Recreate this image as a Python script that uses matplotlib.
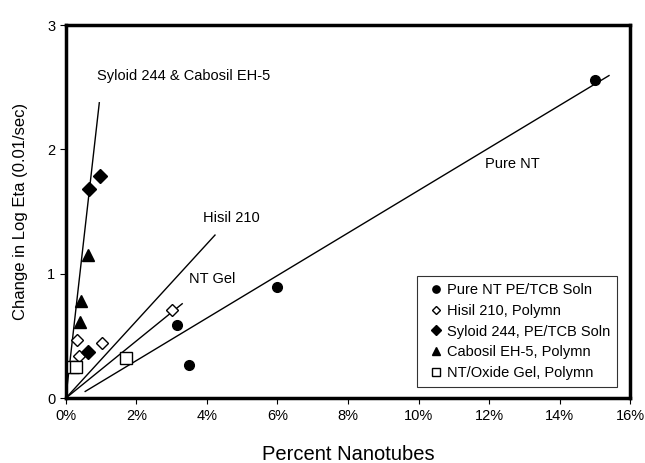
import matplotlib
matplotlib.use("Agg")
import matplotlib.pyplot as plt
from matplotlib.ticker import FuncFormatter

plt.rcParams['font.family'] = ['Liberation Sans', 'DejaVu Sans']

# data, x in percent nanotubes
pure_x = [15.0, 6.0, 3.15, 3.48]
pure_y = [2.56, 0.89, 0.59, 0.27]
hisil_x = [0.33, 0.38, 1.03, 3.0]
hisil_y = [0.47, 0.34, 0.44, 0.71]
syloid_x = [0.97, 0.65, 0.64]
syloid_y = [1.79, 1.68, 0.37]
cabosil_x = [0.62, 0.42, 0.40]
cabosil_y = [1.15, 0.78, 0.61]
gel_x = [1.70, 0.20, 0.30]
gel_y = [0.32, 0.25, 0.25]

# fitted trend lines: (x start, x end, slope, intercept)
fit_pure = (0.55, 15.4, 0.171, -0.04)
fit_hisil = (0.0, 4.23, 0.31, 0.0)
fit_gel = (0.0, 3.3, 0.23, 0.0)
fit_syloid = (0.0, 0.95, 2.5, 0.0)

fig = plt.figure(figsize=(6.45, 4.63), dpi=100)
ax = fig.add_axes([0.102, 0.140, 0.875, 0.806])

for x0, x1, m, b in [fit_pure, fit_hisil, fit_gel, fit_syloid]:
    ax.plot([x0, x1], [m*x0 + b, m*x1 + b], color='black', lw=1.0, zorder=2)

ax.plot(pure_x, pure_y, 'o', color='black', ms=7, ls='none',
        label='Pure NT PE/TCB Soln', zorder=3)
ax.plot(hisil_x, hisil_y, 'D', mfc='white', mec='black', mew=1.0, ms=6, ls='none',
        label='Hisil 210, Polymn', zorder=3)
ax.plot(syloid_x, syloid_y, 'D', color='black', ms=7, ls='none',
        label='Syloid 244, PE/TCB Soln', zorder=3)
ax.plot(cabosil_x, cabosil_y, '^', color='black', ms=8, ls='none',
        label='Cabosil EH-5, Polymn', zorder=3)
ax.plot(gel_x, gel_y, 's', mfc='white', mec='black', mew=1.0, ms=8, ls='none',
        label='NT/Oxide Gel, Polymn', zorder=3)

# line annotations
ax.text(0.88, 2.59, 'Syloid 244 & Cabosil EH-5', fontsize=10.5, ha='left', va='center')
ax.text(4.7, 1.45, 'Hisil 210', fontsize=10.5, ha='center', va='center')
ax.text(4.15, 0.96, 'NT Gel', fontsize=10.5, ha='center', va='center')
ax.text(12.65, 1.88, 'Pure NT', fontsize=10.5, ha='center', va='center')

ax.set_xlim(0, 16)
ax.set_ylim(0, 3)
ax.set_xticks(range(0, 17, 2))
ax.set_yticks([0, 1, 2, 3])
ax.xaxis.set_major_formatter(FuncFormatter(lambda v, p: '%d%%' % v))
ax.tick_params(labelsize=10.5, length=4, direction='out')
for s in ax.spines.values():
    s.set_linewidth(2.5)

ax.set_xlabel('Percent Nanotubes', fontsize=14.5, labelpad=16)
ax.set_ylabel('Change in Log Eta (0.01/sec)', fontsize=12, labelpad=14)

leg = ax.legend(loc='lower right', bbox_to_anchor=(0.977, 0.03), fontsize=10.5,
                frameon=True, fancybox=False, handletextpad=-0.1,
                handlelength=1.65, borderpad=0.5, labelspacing=0.45,
                markerscale=0.75, borderaxespad=0)
leg.get_frame().set_edgecolor('black')
leg.get_frame().set_linewidth(0.8)

fig.savefig('out.png', dpi=100)
